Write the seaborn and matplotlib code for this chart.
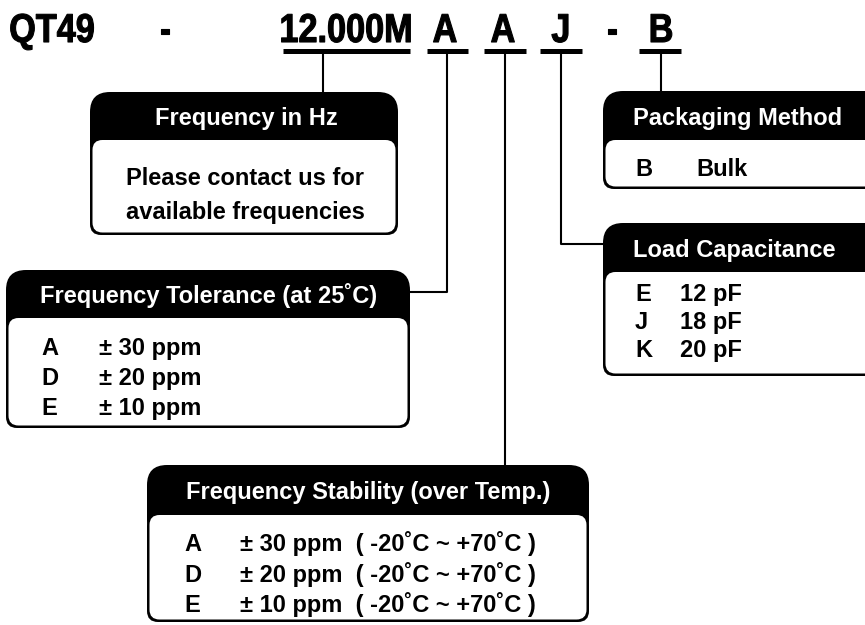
import matplotlib
matplotlib.use('Agg')
import matplotlib.pyplot as plt
from matplotlib.patches import FancyBboxPatch
from matplotlib.patheffects import AbstractPathEffect
from matplotlib.transforms import Affine2D
import seaborn as sns

# part number segments
part_segments = ['QT49', '-', '12.000M', 'A', 'A', 'J', '-', 'B']
underlined = [False, False, True, True, True, True, False, True]

# option tables
freq_title = 'Frequency in Hz'
freq_note = ['Please contact us for', 'available frequencies']

tol_title = 'Frequency Tolerance (at 25˚C)'
tol_codes = ['A', 'D', 'E']
tol_values = ['± 30 ppm', '± 20 ppm', '± 10 ppm']

stab_title = 'Frequency Stability (over Temp.)'
stab_codes = ['A', 'D', 'E']
stab_values = ['± 30 ppm  ( -20˚C ~ +70˚C )',
               '± 20 ppm  ( -20˚C ~ +70˚C )',
               '± 10 ppm  ( -20˚C ~ +70˚C )']

pack_title = 'Packaging Method'
pack_codes = ['B']
pack_values = ['Bulk']

load_title = 'Load Capacitance'
load_codes = ['E', 'J', 'K']
load_values = ['12 pF', '18 pF', '20 pF']

sns.set_theme(style='white')
plt.rcParams['font.family'] = ['Liberation Sans', 'DejaVu Sans']
plt.rcParams['font.weight'] = 'bold'
plt.rcParams['text.color'] = 'black'


class Squeeze(AbstractPathEffect):
    """narrow the glyphs horizontally around their centre"""
    def __init__(self, sx):
        super().__init__()
        self.sx = sx

    def draw_path(self, renderer, gc, tpath, affine, rgbFace=None):
        ext = tpath.get_extents()
        cx = (ext.x0 + ext.x1) / 2
        t = Affine2D().translate(-cx, 0).scale(self.sx, 1).translate(cx, 0)
        gc0 = renderer.new_gc()
        gc0.copy_properties(gc)
        gc0.set_linewidth(0.8)
        gc0.set_foreground(rgbFace)
        renderer.draw_path(gc0, tpath, t + affine, rgbFace)
        gc0.restore()


fig = plt.figure(figsize=(8.65, 6.25), dpi=100)
ax = fig.add_axes([0, 0, 1, 1])
ax.set_xlim(0, 865)
ax.set_ylim(625, 0)
ax.axis('off')

# title row
seg_x = [52, 165, 346, 445, 503, 561, 612, 661]
ul_span = {2: (283, 410), 3: (427, 468), 4: (484, 526), 5: (540, 582), 7: (639, 681)}
for i, (seg, x) in enumerate(zip(part_segments, seg_x)):
    ax.text(x, 42, seg, ha='center', va='baseline', fontsize=29,
            fontweight='bold', path_effects=[Squeeze(0.85)])
    if underlined[i]:
        a, b = ul_span[i]
        ax.plot([a, b], [50.5, 50.5], color='black', lw=3.6, solid_capstyle='butt')

# connectors
lw = 1.5
ax.plot([323, 323], [53, 92], color='black', lw=lw)
ax.plot([447, 447, 410], [53, 292, 292], color='black', lw=lw)
ax.plot([505, 505], [53, 466], color='black', lw=lw)
ax.plot([561, 561, 604], [53, 244, 244], color='black', lw=lw)
ax.plot([661, 661], [53, 92], color='black', lw=lw)


def draw_box(x0, y0, x1, y1, yh, title, tx, ha='center'):
    ax.add_patch(FancyBboxPatch((x0, y0), x1 - x0, (yh + 25) - y0,
                                boxstyle='round,pad=0,rounding_size=20',
                                fc='black', ec='none'))
    ax.add_patch(FancyBboxPatch((x0, yh), x1 - x0, y1 - yh,
                                boxstyle='round,pad=0,rounding_size=11',
                                fc='black', ec='none'))
    ax.add_patch(FancyBboxPatch((x0 + 2.5, yh), x1 - x0 - 5, y1 - yh - 2.5,
                                boxstyle='round,pad=0,rounding_size=10',
                                fc='white', ec='none'))
    ax.text(tx, (y0 + yh) / 2 + 9, title, color='white', fontsize=17,
            fontweight='bold', ha=ha, va='baseline')


def draw_rows(codes, values, xc, xv, ys):
    for c, v, y in zip(codes, values, ys):
        ax.text(xc, y + 8, c, fontsize=17, fontweight='bold', ha='left', va='baseline')
        ax.text(xv, y + 8, v, fontsize=17, fontweight='bold', ha='left', va='baseline')


# frequency
draw_box(90, 92, 398, 235, 140, freq_title, 246)
for t, y in zip(freq_note, [177, 211]):
    ax.text(245, y + 8, t, fontsize=17, fontweight='bold', ha='center', va='baseline')

# tolerance
draw_box(6, 270, 410, 428, 318, tol_title, 209)
draw_rows(tol_codes, tol_values, 41, 99, [347, 377, 407])

# stability
draw_box(147, 465, 589, 622, 515, stab_title, 368)
draw_rows(stab_codes, stab_values, 184, 240, [543, 574, 604])

# packaging
draw_box(603, 91, 890, 189, 140, pack_title, 633, ha='left')
draw_rows(pack_codes, pack_values, 635, 696, [168])

# load capacitance
draw_box(603, 223, 890, 376, 272, load_title, 633, ha='left')
draw_rows(load_codes, load_values, 635, 680, [293, 321, 349])

plt.savefig('out.png', dpi=100, facecolor='white')
